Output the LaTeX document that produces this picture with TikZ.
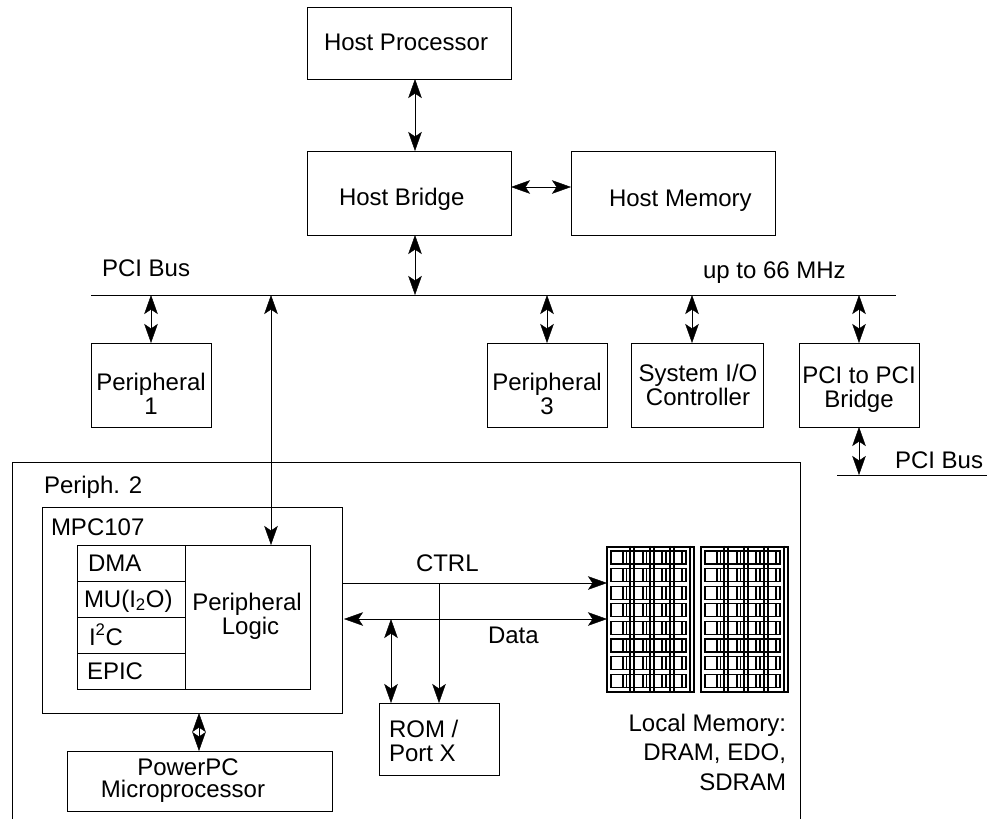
\documentclass[tikz,border=0pt]{standalone}
\usepackage{fontspec}
\setmainfont{Liberation Sans}
\usetikzlibrary{arrows.meta,calc}
\tikzset{
  x=1pt,y=-1pt,
  line width=1.3pt,
  bx/.style={draw,inner sep=0pt,outer sep=0pt,anchor=north west},
  lbl/.style={inner sep=0pt,outer sep=0pt,anchor=base west,font=\fontsize{24}{23.5}\selectfont},
  lblc/.style={lbl,anchor=base,align=center},
  tip/.style={-{Stealth[length=19pt,width=13.5pt,inset=4.5pt]}},
  both/.style={{Stealth[length=19pt,width=13.5pt,inset=4.5pt]}-{Stealth[length=19pt,width=13.5pt,inset=4.5pt]}},
  thin chip/.style={line width=1.1pt},
}
\newcommand{\boxat}[5]{\node[bx,minimum width=#4pt-#2pt,minimum height=#5pt-#3pt] (#1) at (#2,#3) {};}
\newcommand{\chipmodule}[2]{%
  \node[bx,thin chip,minimum width=87pt,minimum height=145pt] (#1) at (#2,547) {};
  \begin{scope}[thin chip,shift={(#2,0)}]
    \foreach \r in {0,...,7}{
      \draw (4,551+17.6*\r) rectangle (79,564+17.6*\r);
      \foreach \v in {16,19.3,36,39.3,55,59,75}
        \draw (\v,551+17.6*\r) -- (\v,564+17.6*\r);
    }
    \foreach \v in {23,27,43,47,63,67,83}
      \draw (\v,545.5) -- (\v,692.5);
  \end{scope}
}
\begin{document}
\begin{tikzpicture}
\useasboundingbox (0,0) rectangle (987,819);
\fill[white] (0,0) rectangle (987,819);

% upper boxes
\boxat{hp}{307}{7}{511}{79}
\boxat{hb}{307}{151}{511}{235}
\boxat{hm}{571}{151}{775}{235}
\boxat{pa}{91}{343}{211}{427}
\boxat{pc}{487}{343}{607}{427}
\boxat{sio}{631}{343}{763}{427}
\boxat{ppb}{799}{343}{919}{427}

% buses
\coordinate (busL) at (91,295);
\coordinate (busR) at (896,295);
\draw (busL) -- (busR);
\coordinate (busbL) at (837,475);
\coordinate (busbR) at (987,475);
\draw (busbL) -- (busbR);

% Periph. 2 open frame
\coordinate (fa) at (12,819);
\coordinate (fb) at (12,462);
\coordinate (fc) at (800,462);
\coordinate (fd) at (800,819);
\draw (fa) -- (fb) -- (fc) -- (fd);

% MPC107
\boxat{mpc}{42}{507}{342}{713}
\boxat{inner}{77}{545}{310}{689}
\boxat{pl}{185}{545}{310}{689}
\boxat{rdma}{77}{545}{185}{581}
\boxat{rmu}{77}{581}{185}{617}
\boxat{riic}{77}{617}{185}{653}
\boxat{repic}{77}{653}{185}{689}
\boxat{ppc}{67}{751}{332}{811}
\boxat{rom}{379}{703}{499}{775}

% memory
\chipmodule{mema}{607}
\chipmodule{memb}{701}

% connector x positions
\coordinate (xh) at (415,0);
\coordinate (xa) at (151,0);
\coordinate (xp) at (271,0);
\coordinate (xc) at (547,0);
\coordinate (xs) at (692,0);
\coordinate (xb) at (859,0);
\coordinate (xm) at (199,0);
\coordinate (xd) at (391,0);
\coordinate (xk) at (439,0);
\coordinate (yh) at (0,187);
\coordinate (yc) at (0,583);
\coordinate (yd) at (0,619);

\draw[both] (xh |- hp.south) -- (xh |- hb.north);
\draw[both] (hb.east |- yh) -- (hm.west |- yh);
\draw[both] (xh |- hb.south) -- (xh |- busL);
\draw[both] (xa |- busL) -- (xa |- pa.north);
\draw[both] (xc |- busL) -- (xc |- pc.north);
\draw[both] (xs |- busL) -- (xs |- sio.north);
\draw[both] (xb |- busL) -- (xb |- ppb.north);
\draw[both] (xb |- ppb.south) -- (xb |- busbL);
\draw[both] (xp |- busL) -- (xp |- pl.north);
\draw[both] (xm |- mpc.south) -- (xm |- ppc.north);
\draw[tip] (mpc.east |- yc) -- (mema.west |- yc);
\draw[both] ($(mpc.east |- yd)+(2,0)$) -- (mema.west |- yd);
\draw[both] (xd |- yd) -- (xd |- rom.north);
\draw[tip] (xk |- yc) -- (xk |- rom.north);

% text
\node[lbl] (thp) at (324,50) {Host Processor};
\node[lbl] (thb) at (339,205) {Host Bridge};
\node[lbl] (thm) at (609,206) {Host Memory};
\node[lbl] (tbus) at (102,276) {PCI Bus};
\node[lbl] (tup) at (703,278) {up to 66 MHz};
\node[lblc] (tpa) at (151,414) {Peripheral\\1};
\node[lblc] (tpc) at (547,414) {Peripheral\\3};
\node[lblc] (tsio) at (698,405) {System I/O\\Controller};
\node[lblc] (tppb) at (859,407) {PCI to PCI\\Bridge};
\node[lbl] (tbusb) at (895,468) {PCI Bus};
\node[lbl] (tp2) at (44,493) {Periph. 2};
\node[lbl] (tmpc) at (51,535) {MPC107};
\node[lbl] (tdma) at (88,571) {DMA};
\node[lbl] (tmu) at (84,607) {MU(I\textsubscript{2}O)};
\node[lbl] (tiic) at (89,645) {I\textsuperscript{2}C};
\node[lbl] (tepic) at (87,679) {EPIC};
\node[lblc] (tpl) at (247,634) {Peripheral\\\hspace*{7pt}Logic};
\node[lbl] (tctrl) at (416,571) {CTRL};
\node[lbl] (tdata) at (488,643) {Data};
\node[lbl,align=left] (trom) at (389,761) {ROM /\\Port X};
\node[lbl,align=right,anchor=base east,font=\fontsize{24}{29.5}\selectfont] (tlm) at (786,790) {Local Memory:\\DRAM, EDO,\\SDRAM};
\node[lblc,font=\fontsize{24}{22}\selectfont] (tppc) at (183,797) {\hspace*{10pt}PowerPC\\Microprocessor};
\end{tikzpicture}
\end{document}
